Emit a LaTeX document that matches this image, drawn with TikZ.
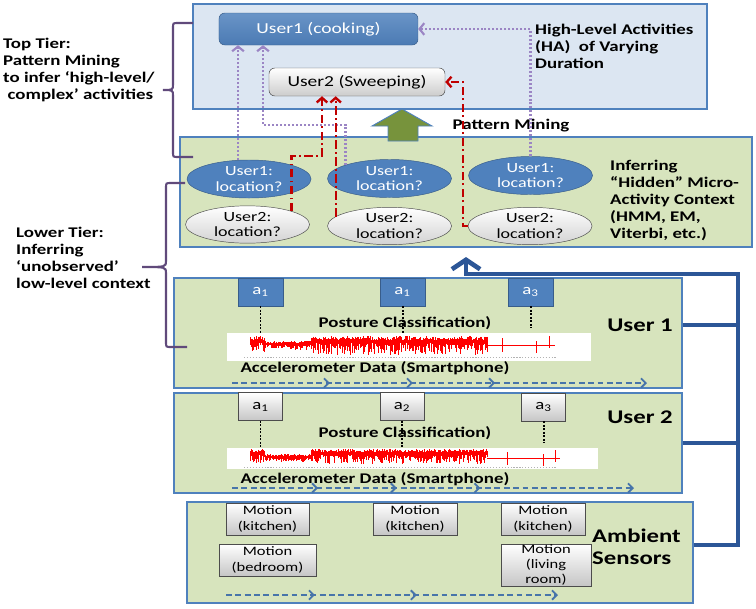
\documentclass[tikz,border=0pt]{standalone}
\usepackage{fontspec}
\setmainfont{Carlito}[FakeStretch=1.28]
\usetikzlibrary{arrows.meta,shapes.geometric,decorations.markings}

\definecolor{tierblue}{HTML}{DCE6F2}
\definecolor{tiergreen}{HTML}{D7E4BD}
\definecolor{edgeblue}{HTML}{4F81BD}
\definecolor{nodeblue}{HTML}{4F81BD}
\definecolor{nodeedge}{HTML}{385D8A}
\definecolor{busblue}{HTML}{2C5697}
\definecolor{lilac}{HTML}{9B85C4}
\definecolor{bracepurple}{HTML}{604A7B}
\definecolor{tracered}{HTML}{C00000}
\definecolor{olivegreen}{HTML}{77933C}

\begin{document}
\begin{tikzpicture}[x=0.03cm, y=-0.03cm,
    tier/.style={draw=edgeblue, line width=1.1pt, inner sep=0pt},
    actblue/.style={rounded corners=5pt, top color=nodeblue!85, bottom color=nodeblue!95!black, draw=nodeedge, text=white, font=\fontsize{13}{15}\selectfont},
    actgray/.style={rounded corners=5pt, top color=white, bottom color=gray!40, draw=gray!60!black, font=\fontsize{13}{15}\selectfont},
    locblue/.style={ellipse, fill=nodeblue, draw=nodeedge, text=white, align=center, inner sep=0pt, minimum width=3.72cm, minimum height=1.14cm, font=\fontsize{12}{13.5}\selectfont},
    locgray/.style={ellipse, top color=white, bottom color=gray!35, draw=gray!60!black, align=center, inner sep=0pt, minimum width=3.72cm, minimum height=1.12cm, font=\fontsize{12}{13.5}\selectfont},
    sensblue/.style={fill=nodeblue, draw=nodeedge, text=white, minimum width=1.35cm, minimum height=0.84cm, inner sep=0pt, font=\fontsize{12.5}{14}\selectfont},
    sensgray/.style={top color=white, bottom color=gray!45, draw=gray!60!black, minimum width=1.32cm, minimum height=0.84cm, inner sep=0pt, font=\fontsize{12.5}{14}\selectfont},
    motion/.style={top color=white, bottom color=gray!45, draw=gray!60!black, align=center, inner sep=0pt, minimum height=0.96cm, font=\fontsize{11}{13}\selectfont},
    lbl/.style={inner sep=0pt, font=\bfseries\fontsize{12.6}{14.5}\selectfont},
    biglbl/.style={inner sep=0pt, font=\bfseries\fontsize{16.5}{19}\selectfont},
    hint/.style={draw=lilac, line width=1.8pt, dash pattern=on 1.7pt off 1.7pt, -{Straight Barb[length=4pt,width=10pt]}},
    trace/.style={draw=tracered, line width=2pt, dash pattern=on 7pt off 3pt on 1.5pt off 3pt, -{Straight Barb[length=4pt,width=9pt]}},
    tick/.style={draw=black, line width=1.7pt, dash pattern=on 1.5pt off 1.5pt},
    flow/.style={draw=edgeblue!90!black, line width=1.6pt, dash pattern=on 5pt off 3pt, -{Straight Barb[length=4pt,width=8pt]}, postaction={decorate}},
    bus/.style={draw=busblue, line width=4pt},
    sigline/.style={draw=red, line width=0.8pt},
    brc/.style={draw=bracepurple, line width=1.8pt}]

\useasboundingbox (0,0) rectangle (756,608);
\pgfmathsetseed{11}

% tiers
\node[tier, fill=tierblue, minimum width=15.42cm, minimum height=3.15cm] (top) at (450,56.5) {};
\node[tier, fill=tiergreen, minimum width=17.16cm, minimum height=3.3cm] (mid) at (466,192) {};
\node[tier, fill=tiergreen, minimum width=15.24cm, minimum height=3.3cm] (u1box) at (428,333) {};
\node[tier, fill=tiergreen, minimum width=15.24cm, minimum height=3.0cm] (u2box) at (428,443) {};
\node[tier, fill=tiergreen, minimum width=15.18cm, minimum height=3.03cm] (amb) at (440,552.5) {};

% pattern mining arrow
\draw[fill=olivegreen, draw=edgeblue, line width=0.8pt] (388,141) -- (388,126) -- (372,126) -- (402,109) -- (432,126) -- (418,126) -- (418,141) -- cycle;
\node[lbl] (pm) at (511,126) {Pattern Mining};

% high-level activities
\node[actblue, minimum width=5.97cm, minimum height=0.96cm] (cook) at (318.5,29) {User1 (cooking)};
\node[actgray, minimum width=5.28cm, minimum height=0.84cm] (sweep) at (357,82) {User2 (Sweeping)};
\node[lbl, align=left, anchor=north west] (hatxt) at (535,24) {High-Level Activities\\(HA)\ \ of Varying\\Duration};

% micro-activity context
\node[locblue] (u1a) at (249,179) {User1:\\location?};
\node[locblue] (u1b) at (389.5,178.5) {User1:\\location?};
\node[locblue] (u1c) at (530.5,175.5) {User1:\\location?};
\node[locgray] (g1) at (247.5,224.5) {User2:\\location?};
\node[locgray] (g2) at (389.5,226) {User2:\\location?};
\node[locgray] (g3) at (530,226) {User2:\\location?};
\node[lbl, align=left, anchor=north west] (hidden) at (610,160) {Inferring\\“Hidden” Micro-\\Activity Context\\(HMM, EM,\\Viterbi, etc.)};

\coordinate (pb2) at (263,125);
\coordinate (rb1) at (322,156);
\coordinate (rb3) at (463,82);

\draw[hint] ([xshift=-9.4pt]u1a.north) -- ([xshift=-9.4pt]u1a.north |- cook.south);
\draw[hint] (u1b.north west) |- (pb2) -- (pb2 |- cook.south);
\draw[hint] (u1c.north) |- (cook.east);
\draw[trace] (g1.north east) |- (rb1) -- (rb1 |- sweep.south);
\draw[trace] (g2.170) -- (g2.170 |- sweep.south);
\draw[trace] (g3.west) -| (rb3) -- (sweep.east);

% user 1
\node[fill=white, minimum width=10.92cm, minimum height=0.84cm, inner sep=0pt] (sig1) at (409,347) {};
\draw[gray!60, line width=0.6pt, dash pattern=on 1pt off 1.5pt] (244,357) -- (556,357);
\draw[sigline] \foreach \i in {250,...,487} { (\i,{ifthenelse(or(\i<265,\i>310),336+4*rnd,341+2*rnd)}) -- (\i,{ifthenelse(or(\i<265,\i>310),343+12*rnd,345+5*rnd)}) };
\draw[sigline] (487,345) -- (555,345) (502,338) -- (502,352) (536,341) -- (536,353) (549,336) -- (549,348);
\node[sensblue] (s11) at (260.5,292) {a\textsubscript{1}};
\node[sensblue] (s12) at (402.5,292) {a\textsubscript{1}};
\node[sensblue] (s13) at (530.5,292) {a\textsubscript{3}};
\draw[tick] (s11.south) -- (s11.south |- sig1.north);
\draw[tick] (s12.south) -- (s12.south |- sig1.north);
\draw[tick] (s13.south) -- ++(0,22);
\node[lbl] (post1) at (405,323) {Posture Classification)};
\node[lbl] (acc1) at (375,368) {Accelerometer Data (Smartphone)};
\node[biglbl] (name1) at (640,325) {User 1};
\coordinate (t1s) at (232,383);
\coordinate (t1e) at (647,383);
\draw[flow, decoration={markings,
    mark=at position 0.236 with {\arrow{Straight Barb[length=4pt,width=8pt]}},
    mark=at position 0.436 with {\arrow{Straight Barb[length=4pt,width=8pt]}},
    mark=at position 0.634 with {\arrow{Straight Barb[length=4pt,width=8pt]}}}] (t1s) -- (t1e);

% user 2
\node[fill=white, minimum width=11.13cm, minimum height=0.63cm, inner sep=0pt] (sig2) at (412.5,458.5) {};
\draw[gray!60, line width=0.6pt, dash pattern=on 1pt off 1.5pt] (244,467) -- (556,467);
\draw[sigline] \foreach \i in {250,...,487} { (\i,{ifthenelse(or(\i<265,\i>310),449+3*rnd,454+2*rnd)}) -- (\i,{ifthenelse(or(\i<265,\i>310),455+9*rnd,458+4*rnd)}) };
\draw[sigline] (487,458) -- (560,458) (507,452) -- (507,465) (543,454) -- (543,466) (555,450) -- (555,462);
\node[sensgray] (s21) at (260.5,406.5) {a\textsubscript{1}};
\node[sensgray] (s22) at (402,406.5) {a\textsubscript{2}};
\node[sensgray] (s23) at (543.5,407) {a\textsubscript{3}};
\draw[tick] (s21.south) -- (s21.south |- sig2.north);
\draw[tick] (s22.south) -- (s22.south |- sig2.north);
\draw[tick] (s23.south) -- ++(0,22);
\node[lbl] (post2) at (405,433) {Posture Classification)};
\node[lbl] (acc2) at (375,479) {Accelerometer Data (Smartphone)};
\node[biglbl] (name2) at (640,417) {User 2};
\coordinate (t2s) at (232,488);
\coordinate (t2e) at (634,488);
\draw[flow, decoration={markings,
    mark=at position 0.214 with {\arrow{Straight Barb[length=4pt,width=8pt]}},
    mark=at position 0.41 with {\arrow{Straight Barb[length=4pt,width=8pt]}},
    mark=at position 0.618 with {\arrow{Straight Barb[length=4pt,width=8pt]}}}] (t2s) -- (t2e);

% ambient sensors
\node[motion, minimum width=2.49cm] (m1) at (267.5,519) {Motion\\(kitchen)};
\node[motion, minimum width=2.52cm] (m2) at (415,519) {Motion\\(kitchen)};
\node[motion, minimum width=2.52cm] (m3) at (543,519) {Motion\\(kitchen)};
\node[motion, minimum width=2.91cm] (m4) at (267.5,560) {Motion\\(bedroom)};
\node[motion, minimum width=2.7cm, minimum height=1.26cm] (m5) at (546,565) {Motion\\(living\\room)};
\node[biglbl, align=left, anchor=west] (ambtxt) at (592,547) {Ambient\\Sensors};
\coordinate (t3s) at (226,595);
\coordinate (t3e) at (558,595);
\draw[flow, decoration={markings,
    mark=at position 0.268 with {\arrow{Straight Barb[length=4pt,width=8pt]}},
    mark=at position 0.575 with {\arrow{Straight Barb[length=4pt,width=8pt]}}}] (t3s) -- (t3e);

% feedback bus
\coordinate (busR) at (738,274);
\coordinate (busL) at (466,274);
\coordinate (busTip) at (466,257);
\draw[bus, -{Straight Barb[length=8pt,width=24pt]}] ([yshift=6.4pt]amb.east) -| (busR) -- (busL) -- (busTip);
\draw[bus] ([yshift=6.8pt]u1box.east) -- ([yshift=6.8pt]u1box.east -| busR);
\draw[bus] (u2box.east) -- (u2box.east -| busR);

% tiers on the left
\draw[brc] (193,23) -- (178,23) .. controls (173,23) .. (173,28) -- (173,84) .. controls (173,90) .. (163,90) .. controls (173,90) .. (173,96) -- (173,152) .. controls (173,157) .. (178,157) -- (193,157);
\node[lbl, align=left, anchor=north west] (toptxt) at (3,38) {Top Tier:\\Pattern Mining\\to infer ‘high-level/\\\hspace{0.3em}complex’ activities};
\draw[brc] (185,183) -- (171,183) .. controls (166,183) .. (166,188) -- (166,261) .. controls (166,267) .. (142,267) .. controls (166,267) .. (166,273) -- (166,342) .. controls (166,347) .. (171,347) -- (187,347);
\node[lbl, align=left, anchor=north west] (lowtxt) at (16,227) {Lower Tier:\\Inferring\\‘unobserved’\\low-level context};

\end{tikzpicture}
\end{document}
